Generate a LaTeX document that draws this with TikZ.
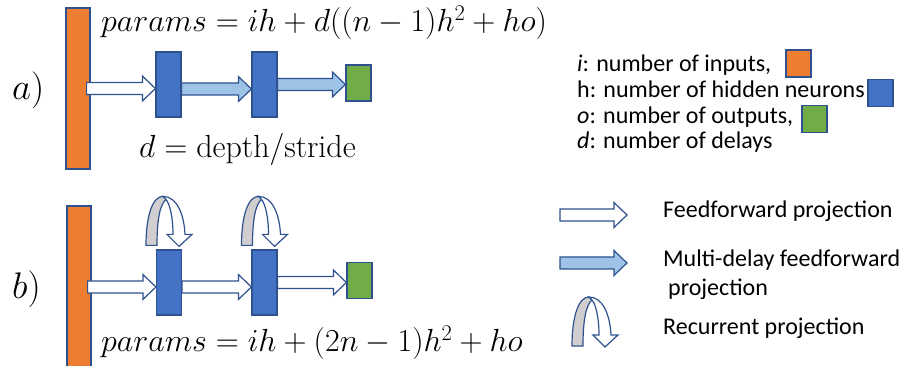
\RequirePackage{fix-cm}
\documentclass[tikz,border=0pt]{standalone}
\usepackage{fontspec}
\newfontfamily\legendfont{Carlito}
\usepackage{xcolor}
\usetikzlibrary{calc,positioning}

\definecolor{inorange}{HTML}{ED7D31}
\definecolor{hidblue}{HTML}{4472C4}
\definecolor{outgreen}{HTML}{70AD47}
\definecolor{edgeblue}{HTML}{2F528F}
\definecolor{delayblue}{HTML}{9DC3E6}
\definecolor{backgray}{HTML}{D0CECE}

% fat outlined arrow, drawn at the height of its start point
\newcommand{\blockarrow}[3][ffarrow]{%
  \draw[#1] let \p1=(#2), \p2=(#3) in
    (\x1,\y1+6pt) -- (\x2-13pt,\y1+6pt) -- (\x2-13pt,\y1+12.5pt)
    -- (\x2,\y1) -- (\x2-13pt,\y1-12.5pt) -- (\x2-13pt,\y1-6pt)
    -- (\x1,\y1-6pt) -- cycle;}

% curled arrow sitting on top of a hidden layer
\newcommand{\recurarrow}[1]{%
  \begin{scope}[shift={(#1)}]
    \filldraw[recback] (-23,4) .. controls (-23,35) and (-16,53) .. (-6,53)
      -- (-3,50) .. controls (-9,45) and (-12,30) .. (-12,4) -- cycle;
    \filldraw[recfront] (-6,53) .. controls (8,53) and (15,35) .. (16,15)
      -- (23,15) -- (10,3) -- (-2,15) -- (4,15)
      .. controls (4,32) and (1,45) .. (-3,50) -- cycle;
  \end{scope}}

\begin{document}
\begin{tikzpicture}[
  x=1pt, y=1pt,
  unit/.style={draw=edgeblue, line width=1.2pt, inner sep=0pt},
  inlayer/.style={unit, fill=inorange, minimum width=24pt},
  hidlayer/.style={unit, fill=hidblue, minimum width=25pt, minimum height=65pt},
  outlayer/.style={unit, fill=outgreen, minimum width=25pt, minimum height=36pt},
  swatch/.style={unit, minimum width=25pt, minimum height=27pt},
  ffarrow/.style={draw=edgeblue, line width=1.2pt, fill=white},
  mdarrow/.style={ffarrow, fill=delayblue},
  recback/.style={draw=edgeblue, line width=1.2pt, fill=backgray},
  recfront/.style={draw=edgeblue, line width=1.2pt, fill=white},
  panel/.style={anchor=west, inner sep=0pt, font=\fontsize{37}{44}\selectfont},
  formula/.style={anchor=base west, inner sep=0pt, font=\fontsize{32}{38}\selectfont},
  legend/.style={anchor=base west, inner sep=0pt, font=\legendfont\fontsize{24}{29}\selectfont},
]
\useasboundingbox (0,0) rectangle (903,366);

% a) multi-delay feedforward net
\node[panel] (laba) at (12,275.5) {$a)$};
\node[inlayer, minimum height=161pt] (ina) at (78,277.5) {};
\node[hidlayer] (h1a) at (168.5,281.5) {};
\node[hidlayer] (h2a) at (264.5,281.5) {};
\node[outlayer] (outa) at (358.5,283) {};

\blockarrow{[xshift=-4pt]ina.east}{h1a.west}
\blockarrow[mdarrow]{[yshift=-4.5pt]h1a.east}{h2a.west}
\blockarrow[mdarrow]{h2a.east}{outa.west}

\node[formula] (parama) at (101,334) {$params = ih + d((n-1)h^2 + ho)$};
\node[formula] (depth) at (139,208) {$d = \mathrm{depth/stride}$};

% b) recurrent net
\node[panel] (labb) at (12,77) {$b)$};
\node[inlayer, minimum height=166pt] (inb) at (79,77) {};
\node[hidlayer] (h1b) at (169,83.5) {};
\node[hidlayer] (h2b) at (264.5,83.5) {};
\node[outlayer] (outb) at (359.5,85.5) {};

\blockarrow{[xshift=-4pt,yshift=2pt]inb.east}{h1b.west}
\blockarrow{[yshift=-4.5pt]h1b.east}{h2b.west}
\blockarrow{h2b.east}{outb.west}
\recurarrow{h1b.north}
\recurarrow{h2b.north}

\node[formula] (paramb) at (101,14) {$params = ih + (2n-1)h^2 + ho$};

% legend: symbols
\node[legend] (legi) at (577,294) {\textit{i}: number of inputs,};
\node[legend] (legh) at (577,268) {h: number of hidden neurons};
\node[legend] (lego) at (577,242) {\textit{o}: number of outputs,};
\node[legend] (legd) at (577,217) {\textit{d}: number of delays};
\node[swatch, fill=inorange] (swin) at (798.5,302.5) {};
\node[swatch, fill=hidblue] (swhid) at (880.5,273) {};
\node[swatch, fill=outgreen] (swout) at (814.5,247) {};

% legend: projections
\coordinate (ffa) at (560,151);
\coordinate (ffb) at (627,151);
\blockarrow{ffa}{ffb}
\coordinate (mda) at (560,103);
\coordinate (mdb) at (627,103);
\blockarrow[mdarrow]{mda}{mdb}
\coordinate (reca) at (595,16);
\recurarrow{reca}

\node[legend] (legff) at (663,148) {Feedforward projection};
\node[legend, align=left] (legmd) at (663,70)
  {Multi-delay feedforward\\\hspace*{5pt}projection};
\node[legend] (legrec) at (663,31) {Recurrent projection};

\end{tikzpicture}
\end{document}
